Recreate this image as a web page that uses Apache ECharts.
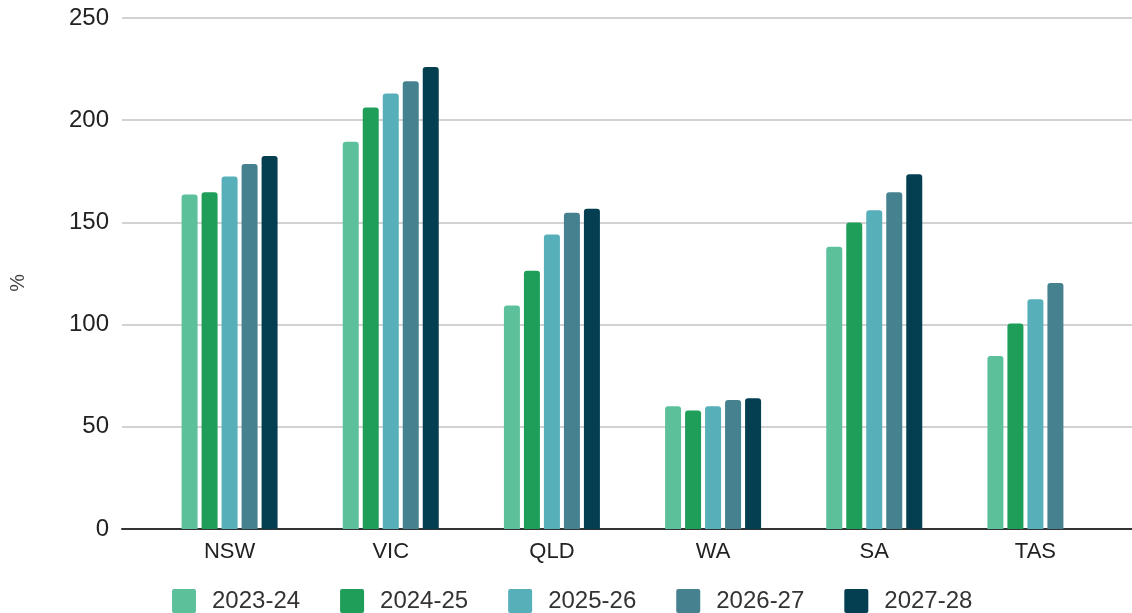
<!DOCTYPE html>
<html>
<head>
<meta charset="utf-8">
<script src="https://cdn.jsdelivr.net/npm/echarts@6/dist/echarts.min.js"></script>
<style>
html,body{margin:0;padding:0;background:#fff;}
#c{width:1132px;height:613px;}
</style>
</head>
<body>
<div id="c"></div>
<script>
const categories = ['NSW', 'VIC', 'QLD', 'WA', 'SA', 'TAS'];
const seriesNames = ['2023-24', '2024-25', '2025-26', '2026-27', '2027-28'];
const s2023_24 = [163.7, 189.5, 109.3, 60.0, 138.1, 84.6];
const s2024_25 = [164.7, 206.2, 126.3, 58.0, 150.0, 100.5];
const s2025_26 = [172.5, 213.1, 144.1, 60.0, 155.9, 112.4];
const s2026_27 = [178.6, 219.1, 154.7, 63.1, 164.7, 120.3];
const s2027_28 = [182.5, 226.0, 156.7, 64.0, 173.5, null];
const yTicks = [0, 50, 100, 150, 200, 250];
const colors = ['#5cc19b', '#1f9e5a', '#57afba', '#46818f', '#033f51'];

const allData = [s2023_24, s2024_25, s2025_26, s2026_27, s2027_28];
const font = "'Liberation Sans', Arial, sans-serif";
const yMin = yTicks[0], yMax = yTicks[yTicks.length - 1], yInt = yTicks[1] - yTicks[0];

const chart = echarts.init(document.getElementById('c'), null, {renderer: 'canvas'});
chart.setOption({
  animation: false,
  backgroundColor: '#fff',
  color: colors,
  grid: [
    {left: 149, right: 16, top: 18, height: 511},
    {left: 122, right: 0, top: 18, height: 511}
  ],
  legend: {
    data: seriesNames,
    top: 584,
    left: 167,
    icon: 'path://M2,0 L22,0 Q24,0 24,2 L24,22 Q24,24 22,24 L2,24 Q0,24 0,22 L0,2 Q0,0 2,0 Z',
    itemWidth: 24,
    itemHeight: 24,
    itemGap: 40,
    textStyle: {fontFamily: font, fontSize: 24, color: '#333', padding: [0, 0, 0, 11]}
  },
  xAxis: [
    {
      type: 'category', gridIndex: 0, data: categories,
      axisLine: {show: false}, axisTick: {show: false},
      axisLabel: {fontFamily: font, fontSize: 22, color: '#222', margin: 12}
    },
    {
      type: 'value', gridIndex: 1, min: 0, max: 1,
      axisLine: {show: true, lineStyle: {color: '#333', width: 2}},
      axisTick: {show: false}, axisLabel: {show: false}, splitLine: {show: false}
    }
  ],
  yAxis: [
    {
      type: 'value', gridIndex: 0, min: yMin, max: yMax, interval: yInt,
      axisLine: {show: false}, axisTick: {show: false}, axisLabel: {show: false}, splitLine: {show: false}
    },
    {
      type: 'value', gridIndex: 1, min: yMin, max: yMax, interval: yInt,
      axisLine: {show: false}, axisTick: {show: false},
      axisLabel: {fontFamily: font, fontSize: 24, color: '#222', margin: 13},
      splitLine: {show: true, lineStyle: {color: '#d2d2d2', width: 2}}
    }
  ],
  graphic: [{
    type: 'text', left: 8, top: 274, rotation: Math.PI / 2,
    style: {text: '%', fontFamily: font, fontSize: 20, fill: '#444'}
  }],
  series: seriesNames.map((n, i) => ({
    name: n, type: 'bar', xAxisIndex: 0, yAxisIndex: 0,
    data: allData[i],
    barWidth: 16, barGap: '25%',
    itemStyle: {color: colors[i], borderRadius: [3, 3, 0, 0]},
    z: 1
  }))
});
</script>
</body>
</html>
